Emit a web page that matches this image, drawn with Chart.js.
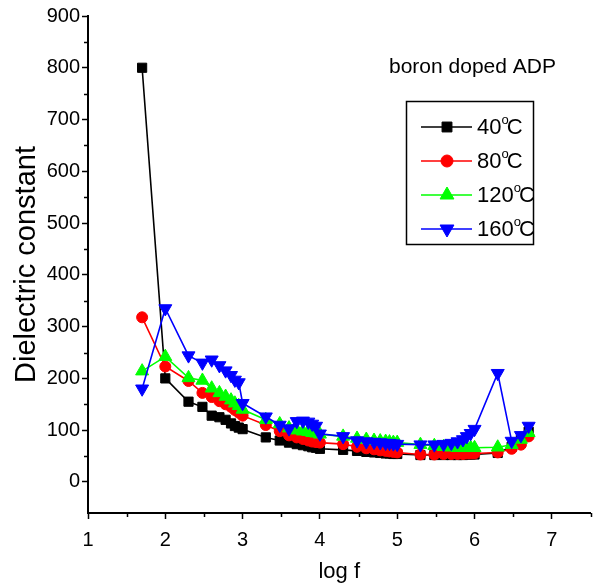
<!DOCTYPE html>
<html>
<head>
<meta charset="utf-8">
<title>Dielectric constant vs log f</title>
<script src="https://cdn.jsdelivr.net/npm/chart.js@4.4.0/dist/chart.umd.min.js"></script>
<style>
    body { margin: 0; background: #ffffff; }
</style>
</head>
<body>
<canvas id="chart" width="599" height="585"></canvas>
<script>
// Costants
const fontFamily = "'Liberation Sans', Arial, sans-serif";

// x values: log of the frequency (50 Hz ... 5 MHz)
const logF = [
    1.7, 2, 2.3, 2.48, 2.6, 2.7, 2.78, 2.85, 2.9, 2.95, 3,
    3.3, 3.48, 3.6, 3.7, 3.78, 3.85, 3.9, 3.95, 4,
    4.3, 4.48, 4.6, 4.7, 4.78, 4.85, 4.9, 4.95, 5,
    5.3, 5.48, 5.6, 5.7, 5.78, 5.85, 5.9, 5.95, 6,
    6.3, 6.48, 6.6, 6.7
];

// Dielectric constant at 40 C
const eps40 = [
    800, 200, 155, 145, 128, 125, 120, 113, 108, 105, 102,
    86, 80, 76, 73, 71, 69, 67, 66, 64,
    62, 60, 58, 57, 56, 55, 55, 54, 54,
    52, 52, 52, 52, 52, 52, 53, 53, 53,
    56, 68, 82, 97
];

// Dielectric constant at 80 C
const eps80 = [
    318, 223, 195, 172, 164, 156, 150, 145, 139, 134, 128,
    110, 98, 90, 86, 83, 80, 78, 77, 76,
    73, 68, 65, 63, 61, 60, 59, 58, 57,
    53, 53, 54, 54, 54, 54, 55, 55, 55,
    57, 64, 72, 88
];

// Dielectric constant at 120 C
const eps120 = [
    214, 242, 201, 196, 181, 172, 165, 158, 152, 147, 140,
    120, 112, 104, 100, 98, 97, 95, 94, 92,
    88, 84, 82, 80, 79, 78, 77, 76, 76,
    72, 70, 68, 67, 66, 66, 66, 66, 66,
    67, 72, 82, 95
];

// Dielectric constant at 160 C
const eps160 = [
    180, 335, 244, 230, 236, 225, 215, 206, 197, 192, 152,
    126, 110, 103, 117, 118, 116, 112, 108, 93,
    88, 80, 78, 77, 76, 75, 75, 74, 73,
    72, 72, 73, 75, 78, 82, 88, 94, 102,
    210, 79, 90, 108
];

// Series names
const seriesLabels = ['40°C', '80°C', '120°C', '160°C'];

// Tick values
const xTicks = [1, 2, 3, 4, 5, 6, 7];
const xMinorTicks = [1.5, 2.5, 3.5, 4.5, 5.5, 6.5, 7.5];
const yTicks = [0, 100, 200, 300, 400, 500, 600, 700, 800, 900];
const yMinorTicks = [50, 150, 250, 350, 450, 550, 650, 750, 850];

// Look of each series: colour and marker
const seriesStyles = [
    { color: '#000000', pointStyle: 'rect', radius: 6.5, rotation: 0 },
    { color: '#ff0000', pointStyle: 'circle', radius: 5.5, rotation: 0 },
    { color: '#00ff00', pointStyle: 'triangle', radius: 7.5, rotation: 0 },
    { color: '#0000ff', pointStyle: 'triangle', radius: 7.5, rotation: 180 },
];

/**
 * Build the {x, y} points of a series
 * @param {number[]} values the y values
 * @returns list of points
 */
function toPoints(values) {
    var points = new Array();
    for (var i = 0; i < values.length; ++i) {
        points.push({ x: logF[i], y: values[i] });
    }
    return points;
}

/**
 * Draw one legend label, the "o" after the number is raised like in the original
 * @param {CanvasRenderingContext2D} ctx
 * @param {string} label e.g. '40°C'
 * @param {number} x left of the text
 * @param {number} y middle of the text
 */
function drawDegreeLabel(ctx, label, x, y) {
    var parts = label.split('°');
    ctx.font = '22px ' + fontFamily;
    ctx.fillText(parts[0], x, y);
    x += ctx.measureText(parts[0]).width;
    ctx.font = '13px ' + fontFamily;
    ctx.fillText('o', x, y - 8);
    x += ctx.measureText('o').width - 2;
    ctx.font = '22px ' + fontFamily;
    ctx.fillText(parts[1], x, y);
}

// Minor ticks, legend box and the note
const extrasPlugin = {
    id: 'extras',
    afterDraw(chart) {
        const ctx = chart.ctx;
        const xs = chart.scales.x;
        const ys = chart.scales.y;
        ctx.save();

        // Minor ticks
        ctx.strokeStyle = '#000';
        ctx.lineWidth = 1.5;
        ctx.beginPath();
        xMinorTicks.forEach(v => {
            const px = Math.round(xs.getPixelForValue(v)) + 0.5;
            ctx.moveTo(px, xs.top);
            ctx.lineTo(px, xs.top + 4);
        });
        yMinorTicks.forEach(v => {
            const py = Math.round(ys.getPixelForValue(v)) + 0.5;
            ctx.moveTo(ys.right, py);
            ctx.lineTo(ys.right - 4, py);
        });
        ctx.stroke();

        // Note in the upper right
        ctx.fillStyle = '#000';
        ctx.textBaseline = 'middle';
        ctx.textAlign = 'left';
        ctx.font = '21px ' + fontFamily;
        ctx.fillText('boron doped ADP', 389, 67);

        // Legend box
        ctx.lineWidth = 1.5;
        ctx.strokeRect(406.5, 101.5, 127, 143);
        chart.data.datasets.forEach((ds, i) => {
            const rowY = 127 + i * 34;
            ctx.strokeStyle = ds.borderColor;
            ctx.lineWidth = 1.5;
            ctx.beginPath();
            ctx.moveTo(421, rowY);
            ctx.lineTo(472, rowY);
            ctx.stroke();
            ctx.fillStyle = ds.pointBackgroundColor;
            ctx.lineWidth = 1;
            Chart.helpers.drawPoint(ctx, {
                pointStyle: ds.pointStyle,
                rotation: ds.rotation,
                radius: ds.pointRadius + 0.5,
                borderWidth: 1
            }, 447, rowY);
            ctx.fillStyle = '#000';
            drawDegreeLabel(ctx, ds.label, 477, rowY + 1);
        });

        ctx.restore();
    }
};

var seriesValues = [eps40, eps80, eps120, eps160];
var datasets = seriesValues.map((values, i) => ({
    label: seriesLabels[i],
    data: toPoints(values),
    showLine: true,
    borderColor: seriesStyles[i].color,
    borderWidth: 1.6,
    pointStyle: seriesStyles[i].pointStyle,
    rotation: seriesStyles[i].rotation,
    pointRadius: seriesStyles[i].radius,
    pointBackgroundColor: seriesStyles[i].color,
    pointBorderColor: seriesStyles[i].color,
    pointBorderWidth: 1,
    order: seriesValues.length - 1 - i,     // blue on top
}));

const config = {
    type: 'scatter',
    data: { datasets: datasets },
    options: {
        responsive: false,
        animation: false,
        layout: { padding: { left: 0, top: 16, right: 2, bottom: 0 } },
        plugins: {
            legend: { display: false },
            tooltip: { enabled: false },
        },
        scales: {
            x: {
                type: 'linear',
                min: 1,
                max: 7.5,
                afterBuildTicks: s => { s.ticks = xTicks.map(v => ({ value: v })); },
                afterFit: s => { s.height = 72; },
                border: { color: '#000', width: 2 },
                grid: { drawOnChartArea: false, tickLength: 6, tickColor: '#000', tickWidth: 1.5 },
                ticks: { color: '#000', font: { family: fontFamily, size: 20 }, padding: 9, maxRotation: 0 },
                title: { display: true, text: 'log f', color: '#000', font: { family: fontFamily, size: 22 }, padding: 0 },
            },
            y: {
                type: 'linear',
                min: -60,
                max: 900,
                afterBuildTicks: s => { s.ticks = yTicks.map(v => ({ value: v })); },
                afterFit: s => { s.width = 88; },
                border: { color: '#000', width: 2 },
                grid: { drawOnChartArea: false, tickLength: 6, tickColor: '#000', tickWidth: 1.5 },
                ticks: { color: '#000', font: { family: fontFamily, size: 20 }, padding: 2 },
                title: { display: true, text: 'Dielectric constant', color: '#000', font: { family: fontFamily, size: 29 }, padding: { top: 10, bottom: 0 } },
            },
        },
    },
    plugins: [extrasPlugin],
};

new Chart(document.getElementById('chart'), config);
</script>
</body>
</html>
